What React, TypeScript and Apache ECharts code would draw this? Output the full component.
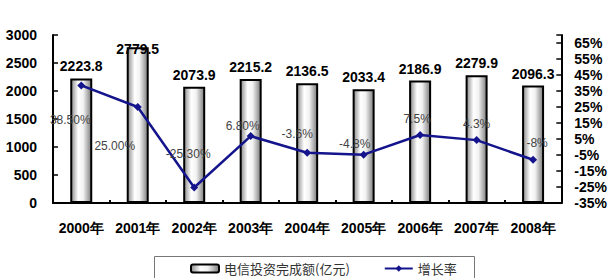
import React, { useEffect, useRef } from "react";
import * as echarts from "echarts";

const years = ["2000年", "2001年", "2002年", "2003年", "2004年", "2005年", "2006年", "2007年", "2008年"];
const investment = [2223.8, 2779.5, 2073.9, 2215.2, 2136.5, 2033.4, 2186.9, 2279.9, 2096.3];
const growthRate = [38.5, 25.0, -25.3, 6.8, -3.6, -4.8, 7.5, 4.3, -8];
const growthLabels = ["38.50%", "25.00%", "-25.30%", "6.80%", "-3.6%", "-4.8%", "7.5%", "4.3%", "-8%"];
const leftTicks = { min: 0, max: 3000, step: 500 };
const rightTicks = { min: -35, top: 65, step: 10, axisEnd: 70 };
const seriesNames = ["电信投资完成额(亿元)", "增长率"];

// layout-only: label offsets for rate labels (dx, dy) and bar labels
const rateLabelOffsets = [[-11, 35], [-23, 39], [-6, -33], [-8, -10], [-10, -19], [-9, -11], [-3, -16], [0, -16], [4, -17]];
const barLabelOffsets = [0, 14, 0, 0, 0, 0, 0, 0, 0];

export default function App() {
  const ref = useRef<HTMLDivElement>(null);
  useEffect(() => {
    if (!ref.current) return;
    const chart = echarts.init(ref.current, undefined, { renderer: "svg" });
    const shift = -rightTicks.min;
    const barFill = new echarts.graphic.LinearGradient(0, 0, 1, 0, [
      { offset: 0, color: "#8c8c8c" },
      { offset: 0.35, color: "#ffffff" },
      { offset: 0.6, color: "#f2f2f2" },
      { offset: 1, color: "#7d7d7d" },
    ]);
    const boldFont = { fontFamily: "Liberation Sans, Arial, sans-serif", fontWeight: "bold" as const, fontSize: 14, color: "#000" };
    chart.setOption({
      animation: false,
      backgroundColor: "#fff",
      grid: { left: 53, right: 48, top: 35, bottom: 75 },
      legend: {
        left: 185,
        top: 257,
        itemWidth: 28,
        itemHeight: 8,
        itemGap: 34,
        textStyle: { fontFamily: "Noto Sans CJK SC", fontSize: 13, color: "#333" },
        data: seriesNames,
      },
      graphic: [
        { type: "rect", left: 152, top: 254, shape: { width: 320, height: 24 }, style: { fill: "none", stroke: "#777", lineWidth: 1 }, z: -1 },
      ],
      xAxis: {
        type: "category",
        data: years,
        axisLine: { lineStyle: { color: "#000", width: 2 } },
        axisTick: { show: true, inside: true, length: 3, lineStyle: { color: "#000", width: 2 } },
        axisLabel: { ...boldFont, margin: 18, interval: 0 },
      },
      yAxis: [
        {
          type: "value",
          min: leftTicks.min,
          max: leftTicks.max,
          interval: leftTicks.step,
          splitLine: { show: false },
          axisLine: { show: true, lineStyle: { color: "#000", width: 2 } },
          axisTick: { show: true, inside: true, length: 5, lineStyle: { color: "#000", width: 1.5 } },
          axisLabel: { ...boldFont, margin: 16, formatter: (v: number) => String(v) },
        },
        {
          type: "value",
          position: "right",
          min: 0,
          max: rightTicks.axisEnd + shift,
          interval: rightTicks.step,
          splitLine: { show: false },
          axisLine: { show: true, lineStyle: { color: "#000", width: 2 } },
          axisTick: { show: true, inside: true, length: 5, lineStyle: { color: "#000", width: 1.5 } },
          axisLabel: {
            ...boldFont,
            margin: 13,
            formatter: (v: number) => (v - shift > rightTicks.top ? "" : `${Math.round(v - shift)}%`),
          },
        },
      ],
      series: [
        {
          name: seriesNames[0],
          type: "bar",
          yAxisIndex: 0,
          barWidth: 22,
          itemStyle: { color: barFill, borderColor: "#000", borderWidth: 2 },
          label: { show: true, position: "top", distance: 5, ...boldFont, fontSize: 14 },
          data: investment.map((v, i) => ({ value: v, label: { offset: [0, barLabelOffsets[i]] } })),
          z: 2,
        },
        {
          name: seriesNames[1],
          type: "line",
          yAxisIndex: 1,
          symbol: "diamond",
          symbolSize: 8,
          lineStyle: { color: "#14148c", width: 2.5 },
          itemStyle: { color: "#14148c" },
          label: {
            show: true,
            position: "inside",
            fontFamily: "Liberation Sans, Arial, sans-serif",
            fontSize: 12,
            color: "#444",
            formatter: (p: any) => growthLabels[p.dataIndex],
          },
          data: growthRate.map((v, i) => ({ value: v + shift, label: { offset: rateLabelOffsets[i] } })),
          z: 5,
        },
      ],
    });
    return () => chart.dispose();
  }, []);
  return <div ref={ref} style={{ position: "absolute", left: 0, top: 0, width: 610, height: 278 }} />;
}
